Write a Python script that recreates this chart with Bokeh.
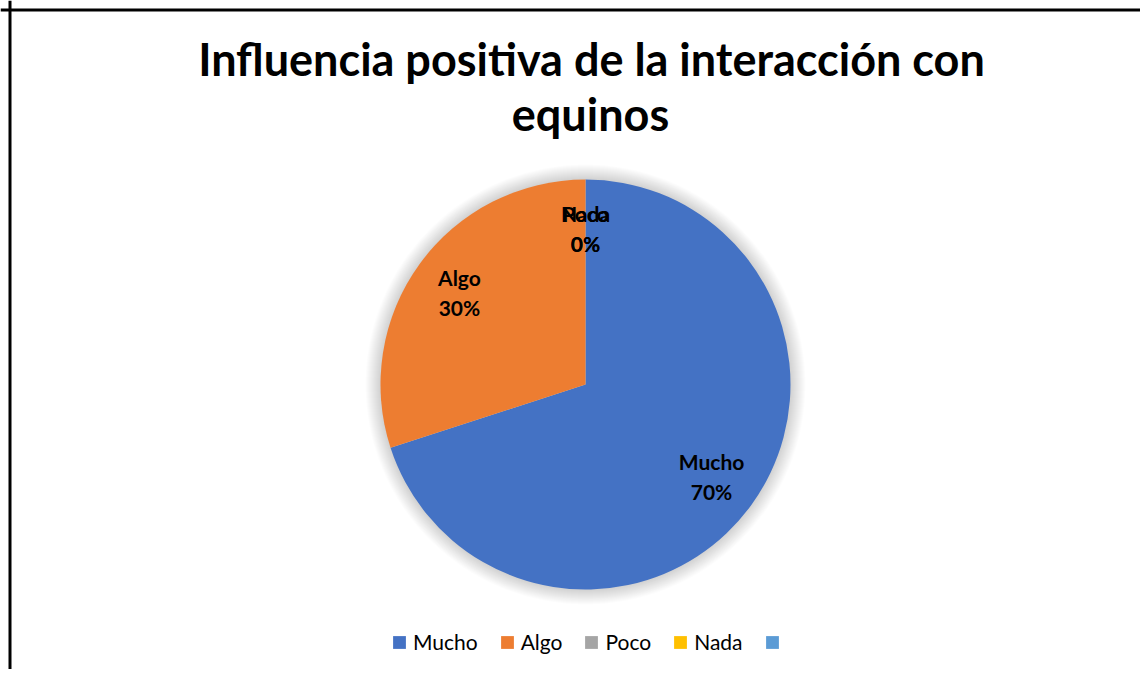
import math
from bokeh.plotting import figure
from bokeh.models import Range1d, Span, Legend, LegendItem, ColumnDataSource
from bokeh.core.properties import value
from bokeh.embed import file_html
from bokeh.resources import INLINE

# ---- data ----
title_lines = ["Influencia positiva de la interacción con", "equinos"]
categories = ["Mucho", "Algo", "Poco", "Nada"]
percentages = [70, 30, 0, 0]
colors = ["#4472C4", "#ED7D31", "#A5A5A5", "#FFC000"]
extra_legend_color = "#5B9BD5"

# ---- layout (1 data unit == 1 screen pixel) ----
W, H = 1140, 669
cx, cy, R = 585, 285, 205
FONT = "Lato"

p = figure(width=W, height=H, output_backend="svg", toolbar_location=None,
           x_range=Range1d(0, W), y_range=Range1d(0, H),
           x_axis_location=None, y_axis_location=None, min_border=0,
           outline_line_color=None)
p.grid.visible = False
p.background_fill_color = "white"
p.border_fill_color = "white"

# soft shadow around the pie
for k in range(1, 16):
    p.circle(x=[cx], y=[cy], radius=R + k, fill_color="black",
             fill_alpha=0.011, line_color=None)

# wedges, clockwise from 12 o'clock
total = sum(percentages)
start = math.pi / 2
renderers = []
label_x, label_y, names, pcts = [], [], [], []
for cat, val, col in zip(categories, percentages, colors):
    sweep = 2 * math.pi * val / total
    end = start - sweep
    r = p.wedge(x=cx, y=cy, radius=R if val > 0 else 0, start_angle=start,
                end_angle=end, direction="clock", fill_color=col, line_color=None)
    renderers.append(r)
    mid = (start + end) / 2
    f = 0.76
    label_x.append(cx + f * R * math.cos(mid))
    label_y.append(cy + f * R * math.sin(mid))
    names.append(cat)
    pcts.append(f"{val:.0f}%")
    start = end

dummy = p.wedge(x=cx, y=cy, radius=0, start_angle=0, end_angle=0.1,
                fill_color=extra_legend_color, line_color=None)

src = ColumnDataSource(dict(x=label_x, y=label_y, name=names, pct=pcts))
p.text(x="x", y="y", text="name", source=src, text_font=value(FONT),
       text_font_style="bold", text_font_size="21px", text_color="black",
       text_align="center", text_baseline="middle", y_offset=-15)
p.text(x="x", y="y", text="pct", source=src, text_font=value(FONT),
       text_font_style="bold", text_font_size="21px", text_color="black",
       text_align="center", text_baseline="middle", y_offset=15)

# title
p.text(x=[591, 590], y=[611, 556], text=title_lines, text_font=value(FONT),
       text_font_style="bold", text_font_size="45px", text_color="black",
       text_align="center", text_baseline="alphabetic")

# legend
items = [LegendItem(label=c, renderers=[r]) for c, r in zip(categories, renderers)]
items.append(LegendItem(label=" ", renderers=[dummy]))
legend = Legend(items=items, orientation="horizontal", location=(391, 15),
                glyph_width=16, glyph_height=16, label_height=20,
                label_standoff=6, spacing=21, padding=0, margin=0,
                border_line_color=None, background_fill_alpha=0,
                label_text_font=FONT, label_text_font_size="21px",
                label_text_color="black")
p.add_layout(legend, "center")

# chart border (left and top visible in the reference)
p.add_layout(Span(location=9.5, dimension="height", line_color="black", line_width=3))
p.add_layout(Span(location=H - 9.5, dimension="width", line_color="black", line_width=3))

open("out.html", "w").write(file_html(p, INLINE))
